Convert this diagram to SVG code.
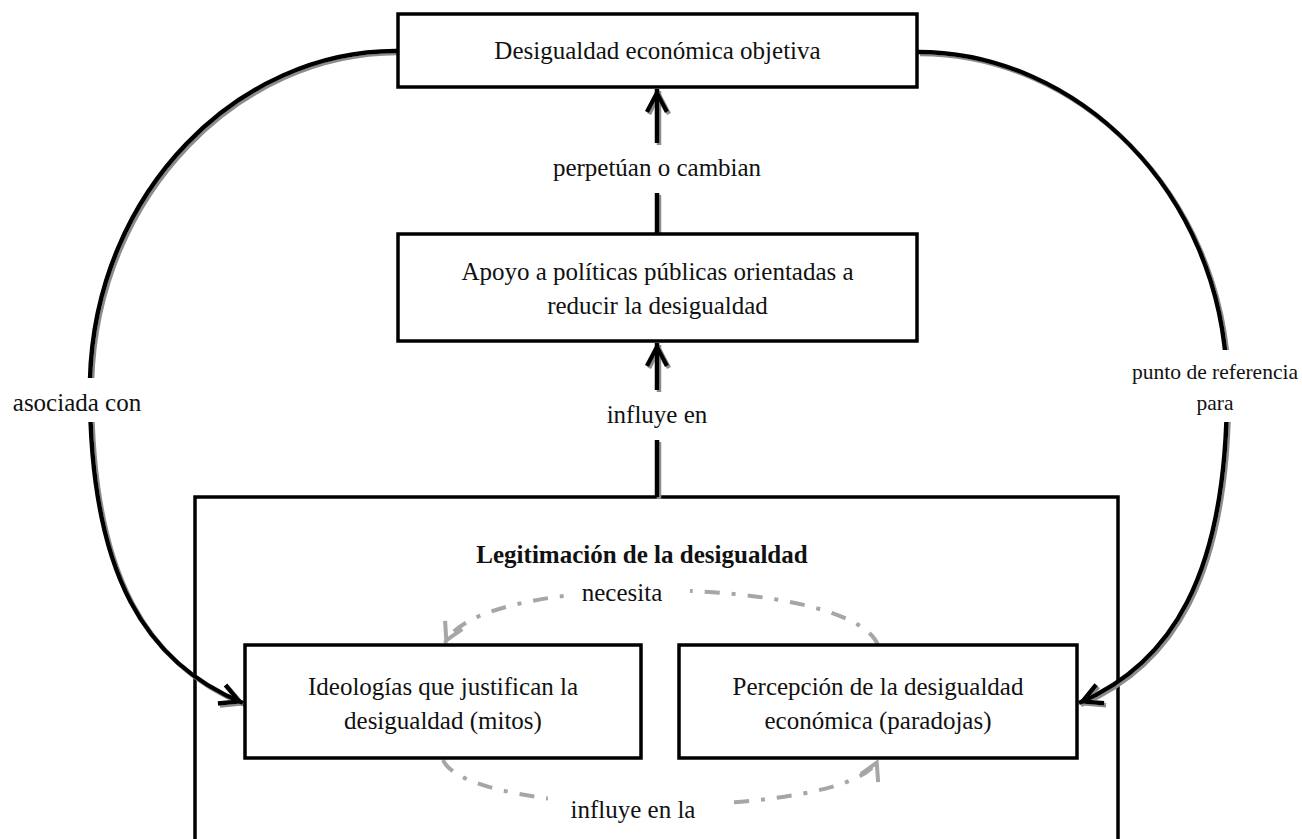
<svg xmlns="http://www.w3.org/2000/svg" width="1302" height="839" viewBox="0 0 1302 839">
  <defs>
    <style>
      .box { fill: #ffffff; stroke: #000000; stroke-width: 3.5; }
      .t { font-family: "Liberation Serif", "DejaVu Serif", serif; font-size: 25px; fill: #111111; text-anchor: middle; }
      .tb { font-weight: bold; }
      .ts { font-size: 21.5px; }
      .conn { fill: none; stroke: #000000; stroke-width: 4.5; }
      .dash { fill: none; stroke: #a6a6a6; stroke-width: 4; stroke-dasharray: 15 12 4 12; }
      .bg { fill: #ffffff; stroke: none; }
    </style>
    <marker id="ah" markerUnits="userSpaceOnUse" markerWidth="40" markerHeight="40" viewBox="-30 -20 40 40" refX="0" refY="0" orient="auto" overflow="visible">
      <path d="M-23,-10 L-4,0 L-23,10" fill="none" stroke="#000000" stroke-width="4.5" stroke-linejoin="miter"/>
    </marker>
    <marker id="ahg" markerUnits="userSpaceOnUse" markerWidth="40" markerHeight="40" viewBox="-30 -20 40 40" refX="0" refY="0" orient="auto" overflow="visible">
      <path d="M-20,-9.5 L-3,0 L-20,9.5" fill="none" stroke="#a6a6a6" stroke-width="4" stroke-linejoin="miter"/>
    </marker>
    <filter id="sh" filterUnits="userSpaceOnUse" x="0" y="0" width="1302" height="839">
      <feDropShadow dx="2" dy="2" stdDeviation="0.6" flood-color="#8c8c8c" flood-opacity="1"/>
    </filter>
  </defs>

  <rect x="0" y="0" width="1302" height="839" fill="#ffffff"/>

  <g id="legitimacion">
    <rect class="box" x="195" y="497" width="923" height="380"/>
    <text class="t tb" x="642" y="563">Legitimación de la desigualdad</text>
  </g>

  <g id="connectors">
    <g filter="url(#sh)">
      <path class="conn" d="M657,143 L657,89" marker-end="url(#ah)"/>
      <path class="conn" d="M657,234 L657,193"/>
      <path class="conn" d="M657,390 L657,343" marker-end="url(#ah)"/>
      <path class="conn" d="M657,497 L657,440"/>
      <path class="conn" d="M397,51 C240,50 95,190 90,380 C88,580 150,665 243,703" marker-end="url(#ah)"/>
      <path class="conn" d="M918,52 C1075,52 1222,190 1227,380 C1229,580 1168,665 1079,703" marker-end="url(#ah)"/>
    </g>
    <path class="dash" d="M878,645 C850,575 480,570 445,643" marker-end="url(#ahg)"/>
    <path class="dash" d="M443,760 C470,820 850,820 878,760" marker-end="url(#ahg)"/>

    <rect class="bg" x="4" y="378" width="148" height="44"/>
    <text class="t" x="77" y="411">asociada con</text>
    <rect class="bg" x="1128" y="350" width="174" height="72"/>
    <text class="t ts" x="1215" y="379">punto de referencia</text>
    <text class="t ts" x="1215" y="410">para</text>
    <text class="t" x="657" y="176">perpetúan o cambian</text>
    <text class="t" x="657" y="423">influye en</text>
    <rect class="bg" x="566" y="575" width="124" height="34"/>
    <text class="t" x="622" y="601">necesita</text>
    <rect class="bg" x="548" y="790" width="176" height="40"/>
    <text class="t" x="633" y="818">influye en la</text>
  </g>

  <g id="desigualdad-objetiva">
    <rect class="box" x="398" y="14" width="519" height="73"/>
    <text class="t" x="657.5" y="59">Desigualdad económica objetiva</text>
  </g>

  <g id="apoyo-politicas">
    <rect class="box" x="398" y="234" width="519" height="107"/>
    <text class="t" x="657.5" y="280">Apoyo a políticas públicas orientadas a</text>
    <text class="t" x="657.5" y="314">reducir la desigualdad</text>
  </g>

  <g id="ideologias">
    <rect class="box" x="245" y="645" width="396" height="113"/>
    <text class="t" x="443" y="695">Ideologías que justifican la</text>
    <text class="t" x="443" y="729">desigualdad (mitos)</text>
  </g>

  <g id="percepcion">
    <rect class="box" x="679" y="645" width="398" height="113"/>
    <text class="t" x="878" y="695">Percepción de la desigualdad</text>
    <text class="t" x="878" y="729">económica (paradojas)</text>
  </g>
</svg>
